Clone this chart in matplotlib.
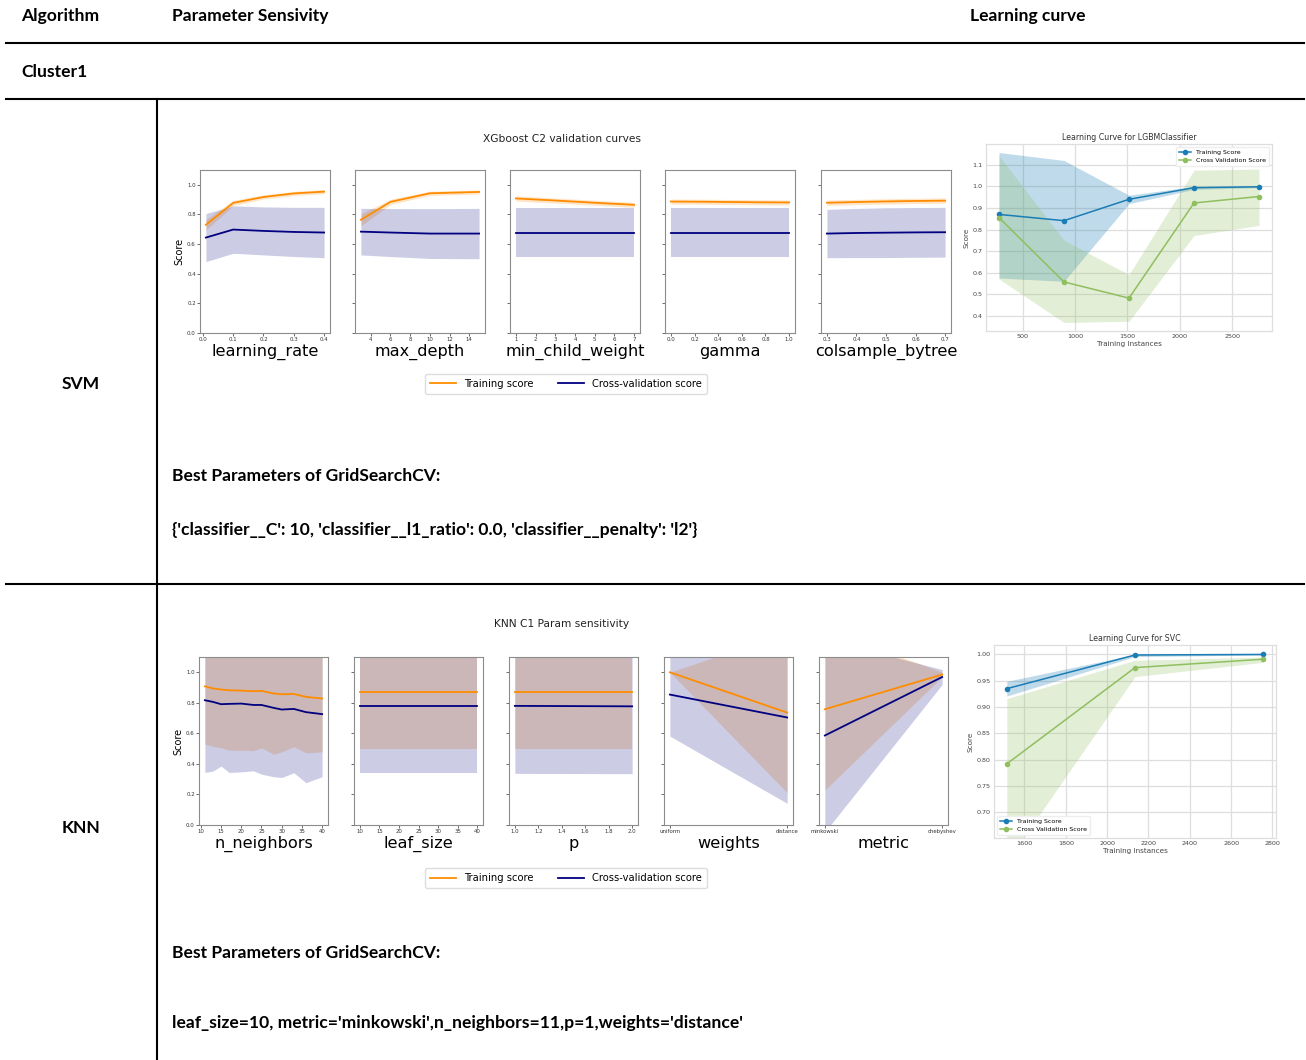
import matplotlib
matplotlib.use('Agg')
import matplotlib.pyplot as plt
from matplotlib.lines import Line2D
import numpy as np

# ---------------- DATA ----------------
# XGBoost C2 validation curves (mean, std)
lr_x = [0.01, 0.1, 0.2, 0.3, 0.4]
lr_train = [0.73, 0.878, 0.918, 0.942, 0.954]
lr_train_std = [0.035, 0.018, 0.014, 0.014, 0.014]
lr_cv = [0.644, 0.698, 0.689, 0.682, 0.678]
lr_cv_std = [0.162, 0.16, 0.162, 0.166, 0.17]

md_x = [3, 6, 10, 15]
md_train = [0.764, 0.885, 0.943, 0.952]
md_train_std = [0.04, 0.018, 0.014, 0.014]
md_cv = [0.684, 0.678, 0.671, 0.671]
md_cv_std = [0.157, 0.162, 0.168, 0.17]

mcw_x = [1, 3, 5, 7]
mcw_train = [0.908, 0.894, 0.879, 0.865]
mcw_train_std = [0.018, 0.017, 0.017, 0.017]
mcw_cv = [0.678, 0.678, 0.678, 0.678]
mcw_cv_std = [0.164, 0.164, 0.164, 0.164]

gm_x = [0.0, 0.25, 0.5, 0.75, 1.0]
gm_train = [0.887, 0.886, 0.884, 0.882, 0.881]
gm_train_std = [0.017, 0.017, 0.017, 0.017, 0.017]
gm_cv = [0.678, 0.678, 0.678, 0.678, 0.678]
gm_cv_std = [0.164, 0.164, 0.164, 0.164, 0.164]

cs_x = [0.3, 0.4, 0.5, 0.6, 0.7]
cs_train = [0.879, 0.884, 0.888, 0.891, 0.893]
cs_train_std = [0.018, 0.018, 0.018, 0.018, 0.018]
cs_cv = [0.671, 0.675, 0.677, 0.679, 0.68]
cs_cv_std = [0.163, 0.166, 0.168, 0.168, 0.168]

# KNN C1 parameter sensitivity (mean, lower band)
nn_x = [11, 13, 15, 17, 20, 23, 25, 28, 30, 33, 36, 40]
nn_train = [0.908, 0.894, 0.887, 0.882, 0.88, 0.876, 0.878, 0.861, 0.856, 0.858, 0.839, 0.828]
nn_train_low = [0.53, 0.515, 0.505, 0.49, 0.49, 0.486, 0.505, 0.464, 0.479, 0.512, 0.473, 0.479]
nn_cv = [0.817, 0.806, 0.791, 0.793, 0.795, 0.786, 0.786, 0.767, 0.756, 0.76, 0.739, 0.726]
nn_cv_low = [0.344, 0.353, 0.386, 0.344, 0.348, 0.355, 0.333, 0.316, 0.311, 0.342, 0.277, 0.316]

ls_x = [10, 15, 20, 25, 30, 35, 40]
ls_train = [0.871] * 7
ls_train_low = [0.499] * 7
ls_cv = [0.78] * 7
ls_cv_low = [0.338] * 7

p_x = [1.0, 2.0]
p_train = [0.871, 0.871]
p_train_low = [0.497, 0.497]
p_cv = [0.78, 0.777]
p_cv_low = [0.338, 0.336]

wt_x = ['uniform', 'distance']
wt_train = [1.0, 0.736]
wt_train_low = [1.0, 0.211]
wt_cv = [0.854, 0.704]
wt_cv_low = [0.582, 0.142]

mt_x = ['minkowski', 'chebyshev']
mt_train = [0.758, 0.985]
mt_train_low = [0.229, 0.97]
mt_cv = [0.586, 0.969]
mt_cv_low = [-0.046, 0.92]

yticks_val = [0.0, 0.2, 0.4, 0.6, 0.8, 1.0]

# Learning curves
lgbm_x = [275, 895, 1515, 2135, 2755]
lgbm_train = [0.870, 0.841, 0.940, 0.994, 0.998]
lgbm_train_lo = [0.575, 0.560, 0.920, 0.986, 0.994]
lgbm_train_hi = [1.157, 1.120, 0.959, 1.0, 1.0]
lgbm_cv = [0.855, 0.557, 0.482, 0.923, 0.953]
lgbm_cv_lo = [0.571, 0.369, 0.375, 0.772, 0.819]
lgbm_cv_hi = [1.142, 0.750, 0.591, 1.075, 1.080]

svc_x = [1515, 2135, 2755]
svc_train = [0.935, 0.999, 1.0]
svc_train_lo = [0.921, 0.996, 0.999]
svc_train_hi = [0.949, 1.0, 1.001]
svc_cv = [0.792, 0.975, 0.991]
svc_cv_lo = [0.606, 0.958, 0.985]
svc_cv_hi = [0.916, 0.989, 0.995]

# ---------------- FIGURE ----------------
W, H = 1306, 1060
fig = plt.figure(figsize=(W / 100, H / 100), dpi=100)
fig.patch.set_facecolor('white')

TFONT = ['Lato', 'DejaVu Sans']
TSIZE = 12.6


def add_ax(x0, y0, x1, y1):
    return fig.add_axes([x0 / W, 1 - y1 / H, (x1 - x0) / W, (y1 - y0) / H])


def hline(y, x0, x1):
    fig.add_artist(Line2D([x0 / W, x1 / W], [1 - y / H, 1 - y / H], color='black',
                          lw=1.5, transform=fig.transFigure))


def vline(x, y0, y1):
    fig.add_artist(Line2D([x / W, x / W], [1 - y0 / H, 1 - y1 / H], color='black',
                          lw=1.5, transform=fig.transFigure))


def ftext(x, y, s, ha='left', size=TSIZE, weight='bold', family=None, color='black'):
    fig.text(x / W, 1 - y / H, s, ha=ha, va='center', fontsize=size, fontweight=weight,
             family=family if family else TFONT, color=color)


# Table frame
hline(43, 6, 1304)
hline(99, 6, 1304)
hline(584, 6, 1304)
vline(157, 99, 1060)

ftext(21, 16, 'Algorithm')
ftext(172, 16, 'Parameter Sensivity')
ftext(970, 16, 'Learning curve')
ftext(21, 72, 'Cluster1')
ftext(81, 384, 'SVM', ha='center')
ftext(81, 828, 'KNN', ha='center')
ftext(172, 476, 'Best Parameters of GridSearchCV:')
ftext(172, 530, "{'classifier__C': 10, 'classifier__l1_ratio': 0.0, 'classifier__penalty': 'l2'}")
ftext(172, 953, 'Best Parameters of GridSearchCV:')
ftext(172, 1023, "leaf_size=10, metric='minkowski',n_neighbors=11,p=1,weights='distance'")


def val_plot(ax, x, tr, tr_lo, tr_hi, cv, cv_lo, cv_hi, xlabel, first):
    cat = isinstance(x[0], str)
    xs = np.arange(len(x)) if cat else np.array(x, dtype=float)
    ax.plot(xs, tr, color='darkorange', lw=1.3, label='Training score')
    ax.fill_between(xs, tr_lo, tr_hi, color='darkorange', alpha=0.22, lw=0)
    ax.plot(xs, cv, color='navy', lw=1.3, label='Cross-validation score')
    ax.fill_between(xs, cv_lo, cv_hi, color='navy', alpha=0.2, lw=0)
    ax.set_ylim(0, 1.1)
    ax.set_yticks(yticks_val)
    if cat:
        ax.set_xticks(xs)
        ax.set_xticklabels(x)
    ax.set_xlabel(xlabel, fontsize=11.6, labelpad=1)
    ax.tick_params(labelsize=3.9, length=2, width=0.5, pad=1, colors='#333333')
    if first:
        ax.set_ylabel('Score', fontsize=7, labelpad=2)
    else:
        ax.set_yticklabels([])
    for s in ax.spines.values():
        s.set_color('#8c8c8c')
        s.set_linewidth(0.8)


def msd(m, s):
    m = np.array(m); s = np.array(s)
    return m - s, m + s


def mlow(m, lo):
    m = np.array(m); lo = np.array(lo)
    return lo, 2 * m - lo


# XGBoost panel
xgb_sets = [
    (lr_x, lr_train, lr_train_std, lr_cv, lr_cv_std, 'learning_rate'),
    (md_x, md_train, md_train_std, md_cv, md_cv_std, 'max_depth'),
    (mcw_x, mcw_train, mcw_train_std, mcw_cv, mcw_cv_std, 'min_child_weight'),
    (gm_x, gm_train, gm_train_std, gm_cv, gm_cv_std, 'gamma'),
    (cs_x, cs_train, cs_train_std, cs_cv, cs_cv_std, 'colsample_bytree'),
]
lefts = [200, 355, 510, 665, 821]
for i, (x, tr, trs, cv, cvs, lab) in enumerate(xgb_sets):
    ax = add_ax(lefts[i], 170, lefts[i] + 130, 333)
    tlo, thi = msd(tr, trs)
    clo, chi = msd(cv, cvs)
    val_plot(ax, x, tr, tlo, thi, cv, clo, chi, lab, i == 0)
    if i == 0:
        handles, labels = ax.get_legend_handles_labels()
ftext(562, 139, 'XGboost C2 validation curves', ha='center', size=7.7, weight='normal',
      family=['DejaVu Sans'], color='#222222')
LEG = dict(loc='center', ncol=2, fontsize=7.2, handlelength=2.6, columnspacing=2.4,
           framealpha=1, edgecolor='#dddddd', borderpad=0.5)
fig.legend(handles, labels, bbox_to_anchor=(566 / W, 1 - 384 / H), **LEG)

# KNN panel
knn_sets = [
    (nn_x, nn_train, nn_train_low, nn_cv, nn_cv_low, 'n_neighbors'),
    (ls_x, ls_train, ls_train_low, ls_cv, ls_cv_low, 'leaf_size'),
    (p_x, p_train, p_train_low, p_cv, p_cv_low, 'p'),
    (wt_x, wt_train, wt_train_low, wt_cv, wt_cv_low, 'weights'),
    (mt_x, mt_train, mt_train_low, mt_cv, mt_cv_low, 'metric'),
]
lefts = [199, 354, 509, 664, 819]
for i, (x, tr, trl, cv, cvl, lab) in enumerate(knn_sets):
    ax = add_ax(lefts[i], 657, lefts[i] + 129, 825)
    tlo, thi = mlow(tr, trl)
    clo, chi = mlow(cv, cvl)
    val_plot(ax, x, tr, tlo, thi, cv, clo, chi, lab, i == 0)
ftext(562, 624, 'KNN C1 Param sensitivity', ha='center', size=7.7, weight='normal',
      family=['DejaVu Sans'], color='#222222')
fig.legend(handles, labels, bbox_to_anchor=(566 / W, 1 - 878 / H), **LEG)

# Learning curves (yellowbrick-like)
BLUE = '#1b7db5'
GREEN = '#8fbf5f'


def lc_plot(ax, x, tr, tr_lo, tr_hi, cv, cv_lo, cv_hi, title, loc):
    ax.fill_between(x, tr_lo, tr_hi, color=BLUE, alpha=0.28, lw=0)
    ax.fill_between(x, cv_lo, cv_hi, color=GREEN, alpha=0.25, lw=0)
    ax.plot(x, tr, 'o-', color=BLUE, ms=3, lw=1.1, label='Training Score')
    ax.plot(x, cv, 'o-', color=GREEN, ms=3, lw=1.1, label='Cross Validation Score')
    ax.set_facecolor('white')
    ax.grid(True, color='#dedede', lw=0.9)
    ax.set_axisbelow(True)
    for s in ax.spines.values():
        s.set_color('#dedede')
        s.set_linewidth(0.9)
    ax.tick_params(length=0, labelsize=4.6, labelcolor='#444444', pad=2.5)
    ax.set_title(title, fontsize=5.7, color='#333333', pad=3)
    ax.set_xlabel('Training Instances', fontsize=5.2, color='#444444', labelpad=1)
    ax.set_ylabel('Score', fontsize=5.2, color='#444444', labelpad=2)
    ax.legend(loc=loc, fontsize=4.5, frameon=True, framealpha=1, edgecolor='#eeeeee',
              handlelength=2.0, borderpad=0.4)


ax = add_ax(986, 144, 1272, 331)
lc_plot(ax, lgbm_x, lgbm_train, lgbm_train_lo, lgbm_train_hi, lgbm_cv, lgbm_cv_lo, lgbm_cv_hi,
        'Learning Curve for LGBMClassifier', 'upper right')
ax.set_xticks([500, 1000, 1500, 2000, 2500])
ax.set_yticks([0.4, 0.5, 0.6, 0.7, 0.8, 0.9, 1.0, 1.1])

ax = add_ax(994, 645, 1276, 838)
lc_plot(ax, svc_x, svc_train, svc_train_lo, svc_train_hi, svc_cv, svc_cv_lo, svc_cv_hi,
        'Learning Curve for SVC', 'lower left')
ax.set_ylim(0.651, 1.018)
ax.set_xticks([1600, 1800, 2000, 2200, 2400, 2600, 2800])
ax.set_yticks([0.70, 0.75, 0.80, 0.85, 0.90, 0.95, 1.00])
ax.set_yticklabels(['0.70', '0.75', '0.80', '0.85', '0.90', '0.95', '1.00'])

fig.savefig('out.png', dpi=100, facecolor='white')
